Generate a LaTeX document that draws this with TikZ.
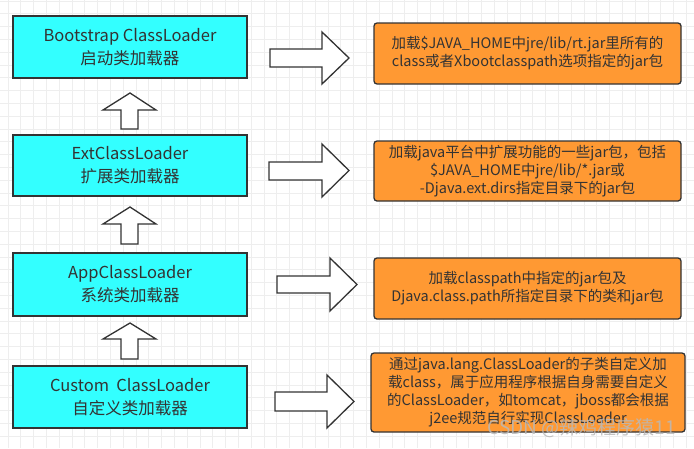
\documentclass[tikz,border=0pt]{standalone}
\usepackage{fontspec}
\setmainfont{Noto Sans CJK SC}
\definecolor{cyanbox}{HTML}{33FFFF}
\definecolor{orangebox}{HTML}{FF9933}
\definecolor{edgec}{HTML}{333333}
\definecolor{txt}{HTML}{333333}
\definecolor{gridc}{HTML}{EEEEEE}
\tikzset{
  loaderbox/.style={draw=edgec, line width=1.4pt, fill=cyanbox, text=txt, align=center,
    minimum width=234pt, inner sep=0pt, font={\fontsize{16.5}{23}\selectfont}},
  descbox/.style={draw=edgec, line width=1.3pt, fill=orangebox, text=txt, align=center,
    minimum width=307pt, inner sep=0pt, rounded corners=3pt, font={\fontsize{14.5}{18}\selectfont}},
  blockarrow/.style={draw=edgec, line width=1.3pt, fill=white, line join=miter},
}
\begin{document}
\begin{tikzpicture}[x=1pt,y=-1pt]
\useasboundingbox (0,0) rectangle (694,448);
\fill[white] (0,0) rectangle (694,448);
\foreach \i in {0,...,54} \draw[gridc, line width=0.8pt] (8+\i*12.8,0) -- (8+\i*12.8,448);
\foreach \j in {0,...,35} \draw[gridc, line width=0.8pt] (0,1+\j*12.8) -- (694,1+\j*12.8);

% left boxes
\node[loaderbox, minimum height=62pt] (b1) at (130,47) {Bootstrap ClassLoader\\启动类加载器};
\node[loaderbox, minimum height=61pt] (b2) at (130,165.5) {ExtClassLoader\\扩展类加载器};
\node[loaderbox, minimum height=63pt] (b3) at (130,284.5) {AppClassLoader\\系统类加载器};
\node[loaderbox, minimum height=62pt] (b4) at (130,397) {Custom\ \ ClassLoader\\自定义类加载器};

% right boxes
\node[descbox, minimum height=61pt] (o1) at (527.5,53.5) {加载\$JAVA\_HOME中jre/lib/rt.jar里所有的\\class或者Xbootclasspath选项指定的jar包};
\node[descbox, minimum height=60pt] (o2) at (527.5,171) {加载java平台中扩展功能的一些jar包，包括\\\$JAVA\_HOME中jre/lib/*.jar或\\-Djava.ext.dirs指定目录下的jar包};
\node[descbox, minimum height=61pt] (o3) at (527.5,288.5) {加载classpath中指定的jar包及\\Djava.class.path所指定目录下的类和jar包};
\node[descbox, minimum height=79pt, minimum width=314pt] (o4) at (528,392.5) {通过java.lang.ClassLoader的子类自定义加\\载class，属于应用程序根据自身需要自定义\\的ClassLoader，如tomcat，jboss都会根据\\j2ee规范自行实现ClassLoader};

% right block arrows
\draw[blockarrow] (270,49) -- (322,49) -- (322,32) -- (349,58) -- (322,84) -- (322,67) -- (270,67) -- cycle;
\draw[blockarrow] (269,162) -- (322,162) -- (322,144) -- (349,170.5) -- (322,197) -- (322,180) -- (269,180) -- cycle;
\draw[blockarrow] (277,276) -- (330,276) -- (330,258) -- (357,284.5) -- (330,311) -- (330,293) -- (277,293) -- cycle;
\draw[blockarrow] (275,392) -- (327,392) -- (327,375) -- (354,401.5) -- (327,428) -- (327,411) -- (275,411) -- cycle;

% up block arrows
\draw[blockarrow] (121,129) -- (121,110) -- (103,110) -- (130,93) -- (156,110) -- (138,110) -- (138,129) -- cycle;
\draw[blockarrow] (121,244) -- (121,224) -- (103,224) -- (130,207) -- (156,224) -- (138,224) -- (138,244) -- cycle;
\draw[blockarrow] (121,359) -- (121,339) -- (103,339) -- (130,323) -- (156,339) -- (138,339) -- (138,359) -- cycle;

% watermark
\node[text=gray!55, opacity=0.85, font={\fontsize{19}{19}\selectfont}, anchor=east, inner sep=0pt] (wm) at (676,428) {CSDN @辣鸡程序猿11};
\end{tikzpicture}
\end{document}
